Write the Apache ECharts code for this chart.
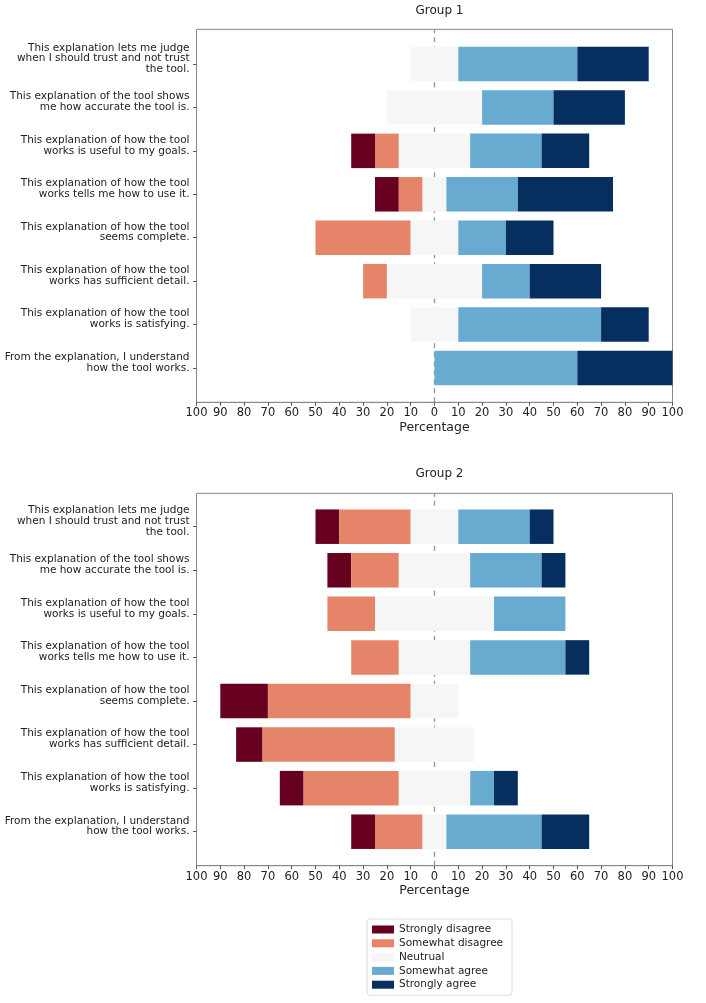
<!DOCTYPE html>
<html>
<head>
<meta charset="utf-8">
<script src="https://cdn.jsdelivr.net/npm/echarts@6/dist/echarts.min.js"></script>
<style>
  html, body { margin: 0; padding: 0; background: #fff; }
  #chart { width: 706px; height: 1003px; }
</style>
</head>
<body>
<div id="chart"></div>
<script>
// survey statements (same for both groups)
var categories = [
  'This explanation lets me judge\nwhen I should trust and not trust\nthe tool.',
  'This explanation of the tool shows\nme how accurate the tool is.',
  'This explanation of how the tool\nworks is useful to my goals.',
  'This explanation of how the tool\nworks tells me how to use it.',
  'This explanation of how the tool\nseems complete.',
  'This explanation of how the tool\nworks has sufficient detail.',
  'This explanation of how the tool\nworks is satisfying.',
  'From the explanation, I understand\nhow the tool works.'
];
var levels = ['Strongly disagree', 'Somewhat disagree', 'Neutrual', 'Somewhat agree', 'Strongly agree'];
var colors = ['#67001f', '#e6846a', '#f5f6f5', '#67abd0', '#062f60'];

// percentages, Group 1
var g1StronglyDisagree = [0, 0, 10, 10, 0, 0, 0, 0];
var g1SomewhatDisagree = [0, 0, 10, 10, 40, 10, 0, 0];
var g1Neutral          = [20, 40, 30, 10, 20, 40, 20, 0];
var g1SomewhatAgree    = [50, 30, 30, 30, 20, 20, 60, 60];
var g1StronglyAgree    = [30, 30, 20, 40, 20, 30, 20, 40];

// percentages, Group 2
var g2StronglyDisagree = [10, 10, 0, 0, 20, 11.1, 10, 10];
var g2SomewhatDisagree = [30, 20, 20, 20, 60, 55.6, 40, 20];
var g2Neutral          = [20, 30, 50, 30, 20, 33.3, 30, 10];
var g2SomewhatAgree    = [30, 30, 30, 40, 0, 0, 10, 40];
var g2StronglyAgree    = [10, 10, 0, 10, 0, 0, 10, 20];

var font = 'DejaVu Sans';

// invisible left offset so the neutral block is centred on 0
function offsets(sd, swd, n) {
  return sd.map(function(v, i) { return -(v + swd[i] + n[i] / 2); });
}

var groups = [
  { title: 'Group 1', data: [g1StronglyDisagree, g1SomewhatDisagree, g1Neutral, g1SomewhatAgree, g1StronglyAgree],
    titleTop: 0, outerTop: 29.3, outerH: 373, innerTop: 42.3, innerH: 347.4 },
  { title: 'Group 2', data: [g2StronglyDisagree, g2SomewhatDisagree, g2Neutral, g2SomewhatAgree, g2StronglyAgree],
    titleTop: 463, outerTop: 493.3, outerH: 372.4, innerTop: 504.9, innerH: 348.6 }
];

var gridLeft = 196.5, gridWidth = 476;
var option = {
  animation: false,
  textStyle: { fontFamily: font },
  title: [],
  grid: [],
  xAxis: [],
  yAxis: [],
  legend: {
    orient: 'vertical',
    left: 367,
    top: 919,
    data: levels,
    itemWidth: 22,
    itemHeight: 8,
    itemGap: 2.8,
    padding: [5, 9, 5, 5],
    borderColor: '#dddddd',
    borderWidth: 1,
    borderRadius: 3,
    icon: 'rect',
    textStyle: { fontFamily: font, fontSize: 10.5, color: '#222' }
  },
  series: []
};

groups.forEach(function(g, gi) {
  option.title.push({
    text: g.title,
    left: gridLeft + gridWidth / 2,
    textAlign: 'center',
    top: g.titleTop,
    textStyle: { fontFamily: font, fontSize: 12, fontWeight: 'normal', color: '#222' }
  });

  // outer grid: frame, percentage axis, zero line
  option.grid.push({
    left: gridLeft, top: g.outerTop, width: gridWidth, height: g.outerH,
    show: true, borderColor: '#888', borderWidth: 1, containLabel: false
  });
  // inner grid: the bars
  option.grid.push({
    left: gridLeft, top: g.innerTop, width: gridWidth, height: g.innerH, containLabel: false
  });

  var outer = gi * 2, inner = gi * 2 + 1;
  option.xAxis.push({
    gridIndex: outer, type: 'value', min: -100, max: 100, interval: 10,
    name: 'Percentage', nameLocation: 'middle', nameGap: 19,
    nameTextStyle: { fontFamily: font, fontSize: 12.5, color: '#222' },
    axisLine: { lineStyle: { color: '#888' } },
    axisTick: { show: true, length: 3.5, lineStyle: { color: '#555' } },
    splitLine: { show: false },
    axisLabel: {
      margin: 5, fontSize: 11.5, color: '#222', fontFamily: font,
      formatter: function(v) { return Math.abs(v); }
    }
  });
  option.xAxis.push({
    gridIndex: inner, type: 'value', min: -100, max: 100, show: false
  });
  option.yAxis.push({
    gridIndex: outer, type: 'value', min: 0, max: 1, show: false
  });
  option.yAxis.push({
    gridIndex: inner, type: 'category', data: categories, inverse: true,
    axisLine: { show: false, onZero: false },
    axisTick: { show: true, alignWithLabel: true, length: 3.5, lineStyle: { color: '#555' } },
    axisLabel: {
      margin: 7, fontSize: 10.5, lineHeight: 10.8, color: '#222', fontFamily: font, align: 'right',
      // trailing blank line lifts the block a little above the tick, as in the original
      formatter: function(v) { return v + '\n '; }
    }
  });

  option.series.push({
    type: 'line', xAxisIndex: outer, yAxisIndex: outer, data: [], z: 1,
    markLine: {
      silent: true, symbol: 'none', z: 1,
      label: { show: false },
      lineStyle: { color: '#999', type: [5, 4], width: 1.4 },
      data: [{ xAxis: 0 }]
    }
  });

  var stackName = 'g' + gi;
  option.series.push({
    name: '_offset', type: 'bar', stack: stackName, stackStrategy: 'all',
    xAxisIndex: inner, yAxisIndex: inner, barWidth: 34.5, silent: true, z: 2,
    itemStyle: { color: 'transparent' },
    data: offsets(g.data[0], g.data[1], g.data[2])
  });
  levels.forEach(function(lv, li) {
    option.series.push({
      name: lv, type: 'bar', stack: stackName, stackStrategy: 'all',
      xAxisIndex: inner, yAxisIndex: inner, barWidth: 34.5, z: 2,
      itemStyle: { color: colors[li] },
      data: g.data[li]
    });
  });
});

var myChart = echarts.init(document.getElementById('chart'));
myChart.setOption(option);
</script>
</body>
</html>
